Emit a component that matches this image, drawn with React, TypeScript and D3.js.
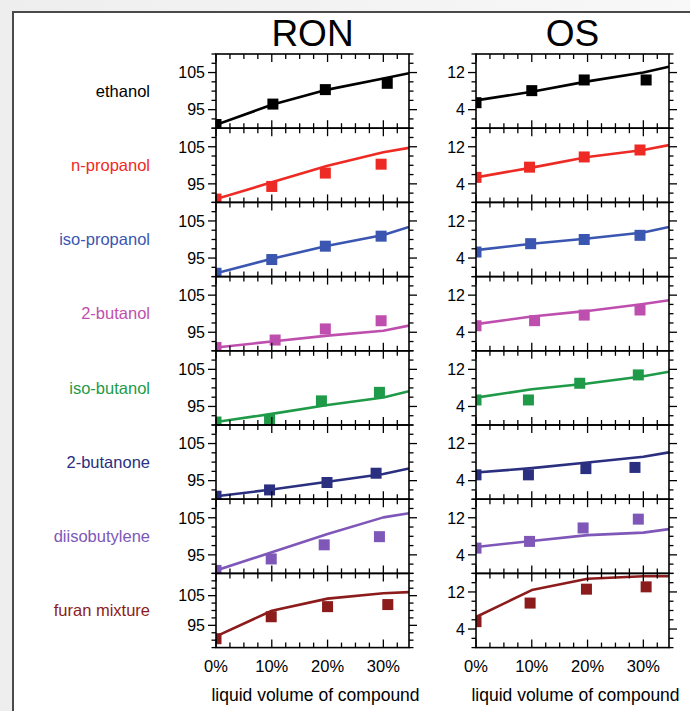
import React, { useRef, useEffect } from "react";
import * as d3 from "d3";

// compounds, top to bottom
const compounds = [
  "ethanol",
  "n-propanol",
  "iso-propanol",
  "2-butanol",
  "iso-butanol",
  "2-butanone",
  "diisobutylene",
  "furan mixture",
];

const colors = [
  "#000000",
  "#ee2a24",
  "#3a56b0",
  "#bf4fae",
  "#1e9a48",
  "#2b2f80",
  "#7e57b8",
  "#8c1c1c",
];

// model curves are sampled at these volume fractions (%)
const lineX = [0, 10, 20, 30, 34.6];

const ronLines = [
  [90.9, 96.3, 100.4, 103.4, 104.8],
  [90.9, 95.4, 99.9, 103.5, 104.7],
  [90.9, 94.8, 98.3, 101.2, 103.4],
  [90.9, 92.5, 94.1, 95.4, 96.8],
  [90.8, 93.0, 95.4, 97.4, 99.1],
  [90.8, 92.6, 94.7, 96.8, 98.3],
  [90.8, 95.7, 100.6, 105.1, 106.2],
  [91.3, 99.9, 104.0, 105.8, 106.2],
];

const osLines = [
  [6.0, 7.85, 10.1, 12.0, 13.25],
  [5.4, 7.5, 9.8, 11.3, 12.35],
  [5.7, 7.1, 8.2, 9.5, 10.7],
  [5.75, 7.4, 8.6, 10.1, 10.9],
  [5.9, 7.7, 8.95, 10.5, 11.5],
  [5.75, 6.7, 7.9, 9.15, 10.1],
  [5.7, 7.0, 8.25, 8.8, 9.55],
  [6.6, 12.4, 14.85, 15.4, 15.4],
];

// measured blends
const ronPointX = [
  [0, 10.2, 19.6, 30.7],
  [0, 10.0, 19.6, 29.6],
  [0, 10.0, 19.6, 29.6],
  [0, 10.6, 19.6, 29.6],
  [0, 9.6, 18.9, 29.3],
  [0, 9.6, 19.9, 28.7],
  [0, 9.9, 19.4, 29.3],
  [0, 9.9, 20.0, 30.8],
];

const ronPoints = [
  [91.0, 96.5, 100.4, 102.1],
  [90.9, 94.3, 97.9, 100.3],
  [90.9, 94.6, 98.2, 100.9],
  [90.9, 92.9, 95.9, 98.1],
  [90.8, 91.4, 96.5, 98.8],
  [90.8, 92.5, 94.5, 97.0],
  [90.8, 93.9, 97.7, 99.9],
  [90.5, 97.9, 101.3, 102.0],
];

const osPointX = [
  [0, 10.0, 19.4, 30.5],
  [0, 9.6, 19.4, 29.4],
  [0, 9.8, 19.4, 29.4],
  [0, 10.5, 19.4, 29.4],
  [0, 9.4, 18.6, 29.1],
  [0, 9.4, 19.7, 28.5],
  [0, 9.6, 19.2, 29.1],
  [0, 9.7, 19.8, 30.5],
];

const osPoints = [
  [5.5, 8.1, 10.4, 10.4],
  [5.4, 7.6, 9.8, 11.3],
  [5.3, 7.1, 8.0, 8.9],
  [5.4, 6.5, 7.7, 8.8],
  [5.4, 5.4, 9.0, 10.8],
  [5.25, 5.25, 6.6, 6.85],
  [5.45, 6.9, 9.8, 11.7],
  [5.6, 9.6, 12.6, 13.1],
];

const ronDomains = [
  [90, 110], [90, 110], [90, 110], [90, 110],
  [90, 110], [90, 110], [90, 110], [87.5, 112.5],
];
const osDomain = [0, 16];

const ronLabels = [95, 105];
const osLabels = [4, 12];
const xLabels = [0, 10, 20, 30];

function App() {
  const svgRef = useRef<SVGSVGElement>(null);

  useEffect(() => {
    document.body.style.margin = "0";
    const width = 690;
    const height = 711;
    const top = 54;
    const panelH = 74.2;

    const svg = d3.select(svgRef.current).attr("width", width).attr("height", height);
    svg.selectAll("*").remove();

    // page background + frame
    const defs = svg.append("defs");
    const grad = defs.append("linearGradient").attr("id", "bg").attr("x1", 0).attr("x2", 1);
    grad.append("stop").attr("offset", 0).attr("stop-color", "#eeeeee");
    grad.append("stop").attr("offset", 1).attr("stop-color", "#f8f8f8");
    svg.append("rect").attr("width", width).attr("height", height).attr("fill", "url(#bg)");
    svg.append("rect")
      .attr("x", 13).attr("y", 12)
      .attr("width", width + 20).attr("height", height + 20)
      .attr("fill", "#fff")
      .attr("stroke", "#4a4a4a")
      .attr("stroke-width", 2);

    const columns = [
      { name: "RON", x0: 216, lines: ronLines, px: ronPointX, py: ronPoints, labels: ronLabels, minor: 2.5 },
      { name: "OS", x0: 476, lines: osLines, px: osPointX, py: osPoints, labels: osLabels, minor: 2 },
    ];

    columns.forEach((col, ci) => {
      const x = d3.scaleLinear().domain([0, 34.6]).range([col.x0, col.x0 + 193]);

      svg.append("text")
        .attr("x", (col.x0 + col.x0 + 193) / 2)
        .attr("y", 46)
        .attr("text-anchor", "middle")
        .attr("font-family", "'Liberation Sans Narrow', 'Liberation Sans', Arial, sans-serif")
        .attr("font-size", 37)
        .text(col.name);

      compounds.forEach((name, i) => {
        const y0 = top + i * panelH;
        const dom = ci === 0 ? ronDomains[i] : osDomain;
        const y = d3.scaleLinear().domain(dom).range([y0 + panelH, y0]);
        const g = svg.append("g");
        const clipId = `clip-${ci}-${i}`;
        defs.append("clipPath").attr("id", clipId)
          .append("rect")
          .attr("x", x.range()[0]).attr("y", y0)
          .attr("width", x.range()[1] - x.range()[0]).attr("height", panelH);

        const plot = g.append("g").attr("clip-path", `url(#${clipId})`);

        const line = d3.line<number>()
          .x((_, k) => x(lineX[k]))
          .y(d => y(d));

        plot.append("path")
          .attr("d", line(col.lines[i]))
          .attr("fill", "none")
          .attr("stroke", colors[i])
          .attr("stroke-width", 2.6)
          .attr("stroke-linejoin", "round");

        const sq = 11;
        plot.selectAll("rect.pt")
          .data(col.py[i])
          .enter()
          .append("rect")
          .attr("class", "pt")
          .attr("x", (_, k) => x(col.px[i][k]) - sq / 2)
          .attr("y", d => y(d) - sq / 2)
          .attr("width", sq)
          .attr("height", sq)
          .attr("fill", colors[i]);

        // y ticks (outward, both sides)
        const yt = d3.range(dom[0], dom[1] + 0.001, col.minor);
        [x.range()[0], x.range()[1]].forEach((xx, side) => {
          const dir = side === 0 ? -1 : 1;
          g.selectAll(null)
            .data(yt)
            .enter()
            .append("line")
            .attr("x1", xx)
            .attr("x2", d => xx + dir * (col.labels.includes(d) ? 8 : 4.5))
            .attr("y1", d => y(d))
            .attr("y2", d => y(d))
            .attr("stroke", "#000")
            .attr("stroke-width", 1.3);
        });

        g.selectAll(null)
          .data(col.labels)
          .enter()
          .append("text")
          .attr("x", x.range()[0] - 11)
          .attr("y", d => y(d))
          .attr("dy", "0.36em")
          .attr("text-anchor", "end")
          .attr("font-family", "'Liberation Sans', Arial, sans-serif")
          .attr("font-size", 16)
          .text(d => d);

        // x ticks (inward, top and bottom)
        const xt = d3.range(0, 34, 2.5);
        [y0, y0 + panelH].forEach((yy, side) => {
          const dir = side === 0 ? 1 : -1;
          g.selectAll(null)
            .data(xt)
            .enter()
            .append("line")
            .attr("x1", d => x(d))
            .attr("x2", d => x(d))
            .attr("y1", yy)
            .attr("y2", d => yy + dir * (d % 10 === 0 ? 8 : 5))
            .attr("stroke", "#000")
            .attr("stroke-width", 1.3);
        });

        g.append("rect")
          .attr("x", x.range()[0]).attr("y", y0)
          .attr("width", x.range()[1] - x.range()[0]).attr("height", panelH)
          .attr("fill", "none")
          .attr("stroke", "#000")
          .attr("stroke-width", 1.6);

        if (ci === 0) {
          svg.append("text")
            .attr("x", 150)
            .attr("y", y0 + panelH / 2)
            .attr("dy", "0.35em")
            .attr("text-anchor", "end")
            .attr("font-family", "'Liberation Sans', Arial, sans-serif")
            .attr("font-size", 16.5)
            .attr("fill", colors[i])
            .text(name);
        }
      });

      const yb = top + compounds.length * panelH;
      svg.append("g")
        .selectAll("text")
        .data(xLabels)
        .enter()
        .append("text")
        .attr("x", d => x(d))
        .attr("y", yb + 24)
        .attr("text-anchor", "middle")
        .attr("font-family", "'Liberation Sans', Arial, sans-serif")
        .attr("font-size", 16.5)
        .text(d => `${d}%`);

      svg.append("text")
        .attr("x", (x.range()[0] + x.range()[1]) / 2 + 3)
        .attr("y", yb + 53)
        .attr("text-anchor", "middle")
        .attr("font-family", "'Liberation Sans', Arial, sans-serif")
        .attr("font-size", 17.5)
        .text("liquid volume of compound");
    });
  }, []);

  return <svg ref={svgRef}></svg>;
}

export default App;
